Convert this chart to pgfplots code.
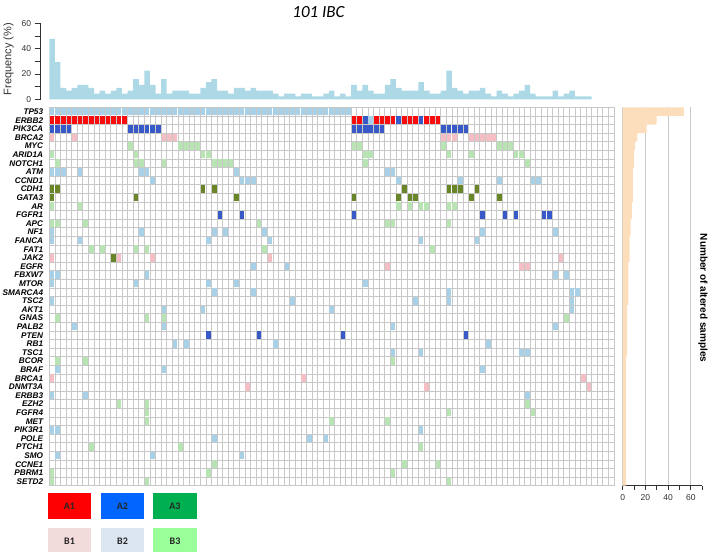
\documentclass[border=0pt]{standalone}
\usepackage{pgfplots}
\pgfplotsset{compat=1.18}
\usepackage{fontspec}
\setmainfont{Liberation Sans}
\newfontfamily\carlito{Carlito}

\definecolor{topblue}{RGB}{173,216,230}
\definecolor{lb}{RGB}{168,208,230}
\definecolor{rd}{RGB}{250,12,12}
\definecolor{db}{RGB}{55,90,200}
\definecolor{pk}{RGB}{244,190,196}
\definecolor{lg}{RGB}{184,228,180}
\definecolor{dg}{RGB}{104,134,40}
\definecolor{peach}{RGB}{253,222,188}
\definecolor{gridgray}{RGB}{200,200,200}
\definecolor{axisgray}{RGB}{50,50,50}

% one cell of the grid, a bit smaller than the 5.59 x 8.6 slot
\pgfdeclareplotmark{cell}{%
  \pgfpathrectangle{\pgfpoint{-2.3pt}{-3.8pt}}{\pgfpoint{4.6pt}{7.6pt}}%
  \pgfusepathqfill}

\pgfplotsset{
  cells/.style={only marks, mark=cell, color=#1, mark options={fill=#1, draw=none}},
}

\begin{document}
\begin{tikzpicture}
\path[use as bounding box] (0,0) rectangle (709pt,552pt);

% title
\node[font=\carlito\itshape\fontsize{17}{18}\selectfont] at (318.5pt,540pt) {101 IBC};

% ---- top: frequency per sample
\begin{axis}[
  at={(40.7pt,452.7pt)}, anchor=south west, scale only axis,
  width=573.3pt, height=76pt,
  xmin=-2.04, xmax=100.5, ymin=0, ymax=60,
  axis x line=none, axis y line*=left,
  axis line style={draw=axisgray, line width=0.6pt},
  ytick={0,20,40,60}, minor ytick={10,30,50},
  tick align=outside, major tick length=6pt, minor tick length=6pt,
  tick style={draw=axisgray, line width=0.6pt},
  ticklabel style={font=\fontsize{8.5}{9}\selectfont, text=axisgray},
  /pgf/number format/assume math mode=true,
]
\addplot[ybar, bar width=1, bar shift=0pt, fill=topblue, draw=none] coordinates {
 (0,47.7) (1,29.5) (2,9.1) (3,6.8) (4,9.1) (5,11.4) (6,11.4) (7,9.1) (8,4.5) (9,6.8)
 (10,4.5) (11,6.8) (12,9.1) (13,4.5) (14,6.8) (15,15.9) (16,11.4) (17,22.7) (18,11.4) (19,4.5)
 (20,15.9) (21,4.5) (22,6.8) (23,6.8) (24,6.8) (25,4.5) (26,4.5) (27,9.1) (28,13.6) (29,15.9)
 (30,6.8) (31,6.8) (32,4.5) (33,9.1) (34,9.1) (35,6.8) (36,9.1) (37,6.8) (38,6.8) (39,6.8)
 (40,4.5) (41,2.3) (42,4.5) (43,4.5) (44,2.3) (45,4.5) (46,4.5) (47,2.3) (48,2.3) (49,4.5)
 (50,6.8) (51,2.3) (52,4.5) (53,2.3) (54,11.4) (55,6.8) (56,11.4) (57,6.8) (58,4.5) (59,4.5)
 (60,11.4) (61,15.9) (62,9.1) (63,6.8) (64,6.8) (65,6.8) (66,13.6) (67,6.8) (68,4.5) (69,4.5)
 (70,6.8) (71,22.7) (72,9.1) (73,6.8) (74,4.5) (75,6.8) (76,6.8) (77,9.1) (78,4.5) (79,2.3)
 (80,6.8) (81,4.5) (82,2.3) (83,4.5) (84,6.8) (85,11.4) (86,4.5) (87,2.3) (88,2.3) (89,2.3)
 (90,6.8) (91,2.3) (92,4.5) (93,6.8) (94,2.3) (95,2.3) (96,2.3)
};
\end{axis}
\node[rotate=90, font=\fontsize{11}{12}\selectfont, text=axisgray] at (8.5pt,493pt) {Frequency (\%)};

% ---- main grid: samples x genes
\begin{axis}[
  at={(49.3pt,66.3pt)}, anchor=south west, scale only axis,
  width=564.7pt, height=378.4pt,
  xmin=-0.5, xmax=100.5, ymin=-0.5, ymax=43.5, y dir=reverse,
  xtick={-0.5,0.5,...,100.5}, xticklabels={}, xmajorgrids,
  ytick={0,...,43}, ymajorgrids=false,
  minor ytick={-0.5,0.5,...,43.5}, yminorgrids,
  yticklabels={TP53,ERBB2,PIK3CA,BRCA2,MYC,ARID1A,NOTCH1,ATM,CCND1,CDH1,GATA3,AR,FGFR1,APC,NF1,FANCA,FAT1,JAK2,EGFR,FBXW7,MTOR,SMARCA4,TSC2,AKT1,GNAS,PALB2,PTEN,RB1,TSC1,BCOR,BRAF,BRCA1,DNMT3A,ERBB3,EZH2,FGFR4,MET,PIK3R1,POLE,PTCH1,SMO,CCNE1,PBRM1,SETD2},
  major tick length=0pt, minor tick length=0pt,
  grid style={draw=gridgray, line width=0.7pt},
  minor grid style={draw=gridgray, line width=0.7pt},
  axis line style={draw=gridgray, line width=0.7pt},
  yticklabel style={font=\fontsize{8.2}{9}\selectfont\bfseries\itshape, inner sep=0pt, xshift=-6pt},
]
% light blue
\addplot[cells=lb] coordinates {
 (0,0) (1,0) (2,0) (3,0) (4,0) (5,0) (6,0) (7,0) (8,0) (9,0) (10,0) (11,0) (12,0) (13,0)
 (14,0) (15,0) (16,0) (17,0) (18,0) (19,0) (20,0) (21,0) (22,0) (23,0) (24,0) (25,0) (26,0)
 (27,0) (28,0) (29,0) (30,0) (31,0) (32,0) (33,0) (34,0) (35,0) (36,0) (37,0) (38,0) (39,0)
 (40,0) (41,0) (42,0) (43,0) (44,0) (45,0) (46,0) (47,0) (48,0) (49,0) (50,0) (51,0) (52,0) (53,0)
 (57,1)
 (0,7) (1,7) (2,7) (5,7) (16,7) (17,7) (33,7) (60,7) (61,7)
 (18,8) (34,8) (35,8) (36,8) (62,8) (73,8) (80,8) (86,8) (87,8)
 (0,14) (16,14) (29,14) (31,14) (38,14) (77,14) (90,14)
 (0,15) (5,15) (28,15) (39,15) (66,15) (76,15)
 (36,18) (42,18)
 (0,19) (1,19) (17,19) (90,19) (92,19)
 (0,20) (15,20) (28,20) (33,20) (56,20)
 (29,21) (36,21) (71,21) (93,21) (94,21)
 (0,22) (43,22) (65,22) (71,22) (93,22)
 (20,23) (27,23) (50,23) (93,23)
 (4,25) (20,25) (61,25) (90,25)
 (22,27) (24,27) (40,27) (78,27)
 (61,28) (66,28) (84,28) (85,28)
 (1,30) (20,30) (77,30)
 (0,33) (6,33) (85,33)
 (0,37) (1,37) (66,37)
 (29,38) (46,38) (49,38)
 (1,40) (18,40) (34,40)
};
% red
\addplot[cells=rd] coordinates {
 (0,1) (1,1) (2,1) (3,1) (4,1) (5,1) (6,1) (7,1) (8,1) (9,1) (10,1) (11,1) (12,1) (13,1)
 (54,1) (55,1) (58,1) (59,1) (60,1) (61,1) (63,1) (64,1) (65,1) (67,1) (68,1) (69,1)
};
% dark blue
\addplot[cells=db] coordinates {
 (56,1) (62,1) (66,1)
 (0,2) (1,2) (2,2) (3,2) (14,2) (15,2) (16,2) (17,2) (18,2) (19,2)
 (54,2) (55,2) (56,2) (57,2) (58,2) (59,2) (70,2) (71,2) (72,2) (73,2) (74,2)
 (30,12) (34,12) (54,12) (77,12) (81,12) (83,12) (88,12) (89,12)
 (28,26) (37,26) (52,26) (74,26)
};
% pink
\addplot[cells=pk] coordinates {
 (0,3) (4,3) (20,3) (21,3) (22,3) (70,3) (71,3) (72,3) (75,3) (76,3) (77,3) (78,3) (79,3)
 (0,17) (12,17) (18,17) (39,17) (91,17)
 (60,18) (84,18) (85,18)
 (0,31) (45,31) (95,31)
 (35,32) (67,32) (96,32)
};
% light green
\addplot[cells=lg] coordinates {
 (14,4) (23,4) (24,4) (25,4) (26,4) (54,4) (55,4) (70,4) (80,4) (81,4) (82,4)
 (0,5) (15,5) (27,5) (28,5) (56,5) (57,5) (71,5) (75,5) (83,5) (84,5)
 (1,6) (15,6) (16,6) (20,6) (29,6) (30,6) (31,6) (32,6) (56,6) (85,6)
 (0,11) (5,11) (62,11) (64,11) (66,11) (67,11) (71,11) (72,11)
 (0,13) (1,13) (6,13) (37,13) (60,13) (61,13) (71,13)
 (7,16) (9,16) (15,16) (17,16) (38,16) (68,16)
 (1,24) (17,24) (20,24) (92,24)
 (1,29) (6,29) (61,29)
 (12,34) (17,34) (85,34)
 (17,35) (71,35) (86,35)
 (17,36) (50,36) (60,36)
 (7,39) (23,39) (66,39)
 (29,41) (63,41) (69,41)
 (0,42) (28,42) (61,42)
 (0,43) (17,43) (71,43)
};
% dark green
\addplot[cells=dg] coordinates {
 (0,9) (1,9) (27,9) (29,9) (63,9) (71,9) (72,9) (73,9) (76,9)
 (0,10) (15,10) (33,10) (54,10) (62,10) (64,10) (65,10) (75,10) (80,10)
 (11,17)
};
\end{axis}

% ---- right: number of altered samples per gene
\begin{axis}[
  at={(622.7pt,66.3pt)}, anchor=south west, scale only axis,
  width=79.4pt, height=378.4pt,
  xmin=0, xmax=70, ymin=-0.5, ymax=43.5, y dir=reverse,
  axis x line*=bottom, axis y line=none,
  axis line style={draw=axisgray, line width=0.6pt},
  xtick={0,20,40,60}, minor xtick={10,30,50,70}, xmajorgrids,
  grid style={draw=gridgray, line width=0.8pt},
  tick align=outside, major tick length=4pt, minor tick length=4pt,
  tick style={draw=axisgray, line width=0.6pt},
  ticklabel style={font=\fontsize{8.5}{9}\selectfont, text=axisgray},
  xticklabel style={yshift=-1.5pt},
  /pgf/number format/assume math mode=true,
]
\addplot[xbar, bar width=1, bar shift=0pt, fill=peach, draw=none] coordinates {
 (54,0) (30,1) (21,2) (13,3) (11,4) (10,5) (10,6) (9,7) (9,8) (9,9) (9,10) (8,11) (8,12)
 (7,13) (7,14) (6,15) (6,16) (6,17) (5,18) (5,19) (5,20) (5,21) (5,22) (4,23) (4,24) (4,25)
 (4,26) (4,27) (4,28) (3,29) (3,30) (3,31) (3,32) (3,33) (3,34) (3,35) (3,36) (3,37) (3,38)
 (3,39) (3,40) (3,41) (3,42) (3,43)
};
\end{axis}
\node[rotate=-90, font=\fontsize{10}{11}\selectfont\bfseries] at (703pt,254pt) {Number of altered samples};

% ---- colour key
\begin{scope}[font=\carlito\bfseries\fontsize{10}{11}\selectfont, text={rgb,255:red,38;green,38;blue,38}]
\fill[fill={rgb,255:red,255;green,0;blue,0}] (48pt,33pt) rectangle (91pt,59pt);
\fill[fill={rgb,255:red,0;green,102;blue,255}] (101pt,33pt) rectangle (144pt,59pt);
\fill[fill={rgb,255:red,0;green,176;blue,80}] (153pt,33pt) rectangle (197pt,59pt);
\fill[fill={rgb,255:red,242;green,220;blue,219}] (48pt,0pt) rectangle (91pt,24pt);
\fill[fill={rgb,255:red,220;green,230;blue,241}] (101pt,0pt) rectangle (144pt,24pt);
\fill[fill={rgb,255:red,153;green,255;blue,153}] (153pt,0pt) rectangle (197pt,24pt);
\node at (69.5pt,46pt) {A1};
\node at (122.5pt,46pt) {A2};
\node at (175pt,46pt) {A3};
\node at (69.5pt,11pt) {B1};
\node at (122.5pt,11pt) {B2};
\node at (175pt,11pt) {B3};
\end{scope}
\end{tikzpicture}
\end{document}
